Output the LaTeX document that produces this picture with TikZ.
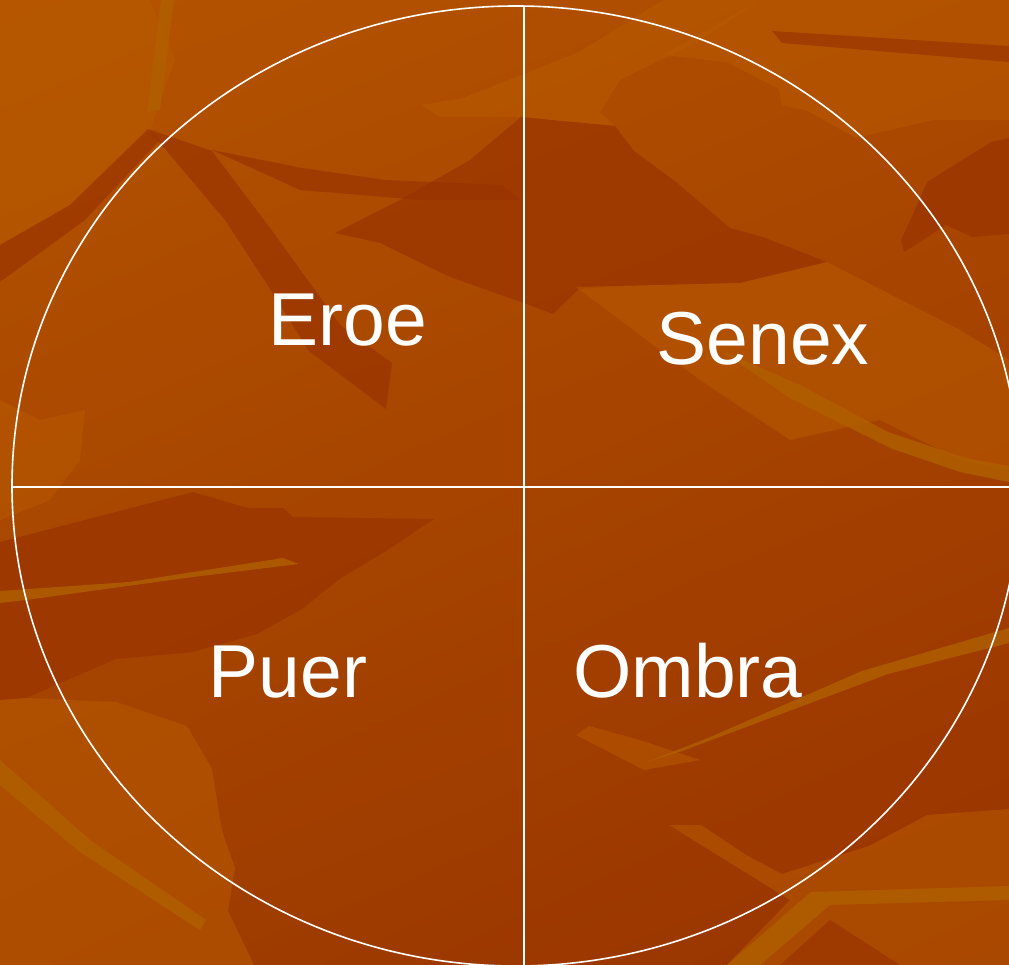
\documentclass[tikz,border=0pt]{standalone}
\usepackage{fontspec}
\setmainfont{Liberation Sans}
\usetikzlibrary{shadings}
\definecolor{bgUL}{HTML}{B45400}
\definecolor{bgUR}{HTML}{AC4A00}
\definecolor{bgLL}{HTML}{A03E00}
\definecolor{bgLR}{HTML}{983300}
\definecolor{leaflight}{HTML}{B85A00}
\definecolor{leafdark}{HTML}{983200}
\definecolor{stripe}{HTML}{B06000}
\tikzset{
  light/.style={fill=leaflight,fill opacity=0.55,draw=none},
  dark/.style={fill=leafdark,fill opacity=0.65,draw=none},
  stripeleaf/.style={fill=stripe,fill opacity=0.8,draw=none},
  wline/.style={draw=white,line width=1.6pt},
  lbl/.style={text=white,inner sep=0pt,anchor=base,font=\fontsize{75}{75}\selectfont}
}
\begin{document}
\begin{tikzpicture}[x=1pt,y=-1pt]
\useasboundingbox (0,0) rectangle (1009,965);
\begin{scope}
\clip (0,0) rectangle (1009,965);
\shade[upper left=bgUL,upper right=bgUR,lower left=bgLL,lower right=bgLR] (0,0) rectangle (1009,965);
% top-left leaves
\fill[light] (0,0) -- (150,0) -- (175,60) -- (150,130) -- (70,205) -- (0,245) -- cycle;
\fill[stripeleaf] (161,0) -- (174,0) -- (160,110) -- (147,112) -- cycle;
\fill[dark] (0,245) -- (70,205) -- (148,129) -- (160,140) -- (85,220) -- (0,282) -- cycle;
\fill[dark] (148,129) -- (212,151) -- (270,228) -- (341,326) -- (392,363) -- (386,409) -- (309,351) -- (270,289) -- (225,220) -- cycle;
\fill[dark] (212,150) -- (302,168) -- (386,180) -- (502,185) -- (521,200) -- (420,200) -- (300,190) -- cycle;
% top middle light
\fill[light] (421,105) -- (463,98) -- (579,52) -- (663,0) -- (760,0) -- (700,40) -- (620,80) -- (600,112) -- (615,126) -- (521,117) -- (440,117) -- cycle;
% central dark leaf
\fill[dark] (335,233) -- (380,243) -- (450,277) -- (521,302) -- (553,314) -- (579,289) -- (627,286) -- (740,283) -- (827,262) -- (763,237) -- (730,228) -- (676,182) -- (634,151) -- (615,126) -- (521,117) -- (470,160) -- (400,200) -- cycle;
% top right
\fill[light] (663,55) -- (727,62) -- (779,89) -- (782,105) -- (808,111) -- (856,138) -- (933,120) -- (1009,120) -- (1009,0) -- (760,0) -- cycle;
\fill[dark] (772,31) -- (1009,46) -- (1009,62) -- (782,43) -- cycle;
\fill[dark] (927,182) -- (991,142) -- (1009,138) -- (1009,234) -- (972,237) -- (946,225) -- (904,252) -- (901,240) -- (914,212) -- cycle;
% Senex light leaf
\fill[light] (576,287) -- (740,283) -- (827,262) -- (960,330) -- (1009,360) -- (1009,470) -- (960,460) -- (880,420) -- (790,440) -- (700,380) -- cycle;
\fill[stripeleaf] (720,350) -- (800,385) -- (888,432) -- (965,458) -- (1009,466) -- (1009,482) -- (960,472) -- (890,448) -- (790,398) -- cycle;
% lower left
\fill[dark] (0,542) -- (193,492) -- (248,508) -- (283,508) -- (293,517) -- (434,519) -- (386,551) -- (341,578) -- (302,609) -- (257,634) -- (193,652) -- (116,659) -- (26,698) -- (0,700) -- cycle;
\fill[stripeleaf] (0,591) -- (129,582) -- (283,558) -- (299,564) -- (193,577) -- (26,600) -- (0,603) -- cycle;
\fill[light] (0,700) -- (26,698) -- (116,702) -- (187,726) -- (212,769) -- (222,831) -- (235,868) -- (228,911) -- (254,965) -- (0,965) -- cycle;
\fill[stripeleaf] (0,760) -- (90,840) -- (206,920) -- (200,930) -- (80,852) -- (0,785) -- cycle;
\fill[light] (0,400) -- (40,420) -- (85,410) -- (80,460) -- (50,500) -- (0,520) -- cycle;
% lower right
\fill[light] (576,735) -- (589,726) -- (640,740) -- (700,760) -- (644,770) -- cycle;
\fill[stripeleaf] (644,763) -- (708,738) -- (862,671) -- (1009,628) -- (1009,643) -- (888,674) -- (682,751) -- cycle;
\fill[light] (669,825) -- (701,825) -- (746,855) -- (782,874) -- (869,846) -- (927,815) -- (1009,809) -- (1009,965) -- (727,965) -- (790,900) -- cycle;
\fill[stripeleaf] (727,965) -- (811,892) -- (1009,886) -- (1009,900) -- (830,905) -- (760,965) -- cycle;
\fill[dark] (780,965) -- (830,920) -- (900,965) -- cycle;
\end{scope}
% diagram
\coordinate (ctr) at (516,486);
\coordinate (vtop) at (524,7);
\coordinate (vbot) at (524,965);
\coordinate (hleft) at (12,487);
\coordinate (hright) at (1009,487);
\begin{scope}
\clip (0,0) rectangle (1009,965);
\draw[wline] (ctr) ellipse [x radius=504pt, y radius=480pt];
\draw[wline] (vtop) -- (vbot);
\draw[wline] (hleft) -- (hright);
\end{scope}
\node[lbl] (eroe) at (348,346) {Eroe};
\node[lbl] (senex) at (763,365) {Senex};
\node[lbl] (puer) at (288,697) {Puer};
\node[lbl] (ombra) at (688,697) {Ombra};
\end{tikzpicture}
\end{document}
